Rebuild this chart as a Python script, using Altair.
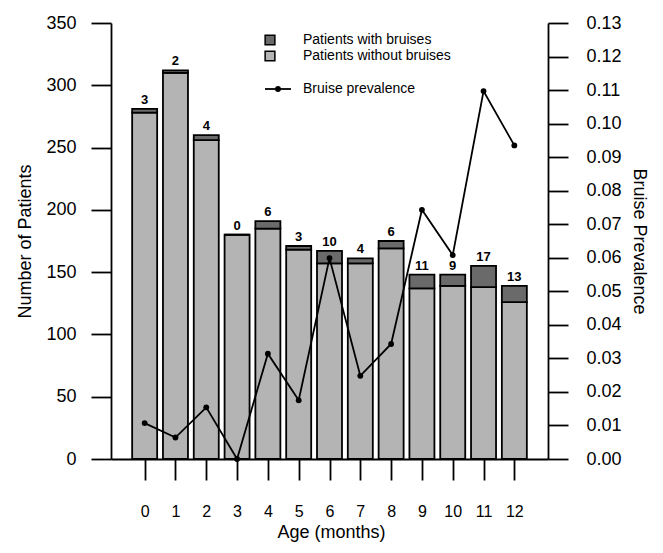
import altair as alt
import pandas as pd

# ---- data ----
ages = list(range(13))
totals = [281, 312, 260, 180, 191, 171, 167, 161, 175, 148, 148, 155, 139]
bruised = [3, 2, 4, 0, 6, 3, 10, 4, 6, 11, 9, 17, 13]
prevalence = [0.0107, 0.0064, 0.0154, 0.0, 0.0314, 0.0175, 0.0599, 0.0248,
              0.0343, 0.0743, 0.0608, 0.1097, 0.0935]
left_ticks = list(range(0, 351, 50))
right_ticks = [round(i * 0.01, 2) for i in range(14)]

LIGHT = "#b4b4b4"
DARK = "#6a6a6a"
FONT = "Liberation Sans"

df = pd.DataFrame({"age": ages, "total": totals, "bruised": bruised,
                   "prev": prevalence})
df["without"] = df["total"] - df["bruised"]

W, H = 437, 436

xscale = alt.Scale(domain=[-0.93, 12.93], nice=False, zero=False)
xaxis = alt.Axis(values=ages, tickSize=21, tickWidth=1.8, domainWidth=1.8,
                 labelFontSize=16, labelPadding=31, labelBaseline="middle",
                 labelOverlap=False,
                 title="Age (months)", titleFontSize=18, titleX=220, titleY=73,
                 titleBaseline="middle", grid=False, labelFlush=False)
yl_scale = alt.Scale(domain=[0, 350], nice=False)
yl_axis = alt.Axis(values=left_ticks, tickSize=20, tickWidth=1.8, domainWidth=1.8,
                   labelFontSize=18, labelPadding=15, grid=False,
                   labelOverlap=False, labelFlush=False,
                   title="Number of Patients", titleFontSize=18, titleAngle=-90,
                   titleX=-86, titleY=H / 2, titleAlign="center",
                   titleBaseline="middle")
yr_scale = alt.Scale(domain=[0, 0.13], nice=False)
yr_axis = alt.Axis(values=right_ticks, format=".2f", orient="right", tickSize=20,
                   tickWidth=1.8, domainWidth=1.8, labelFontSize=18,
                   labelPadding=18, grid=False, labelOverlap=False,
                   labelFlush=False, title="Bruise Prevalence",
                   titleFontSize=18, titleAngle=90, titleX=90, titleY=H / 2,
                   titleAlign="center", titleBaseline="middle")

X = alt.X("age:Q", scale=xscale, axis=xaxis)


def YL(field):
    return alt.Y(field, type="quantitative", scale=yl_scale, axis=yl_axis)


YR = alt.Y("prev:Q", scale=yr_scale, axis=yr_axis)

base = alt.Chart(df)

bars_without = base.mark_bar(width=25, color=LIGHT, stroke="black",
                             strokeWidth=1.8).encode(x=X, y=YL("without"))
bars_with = base.mark_bar(width=25, color=DARK, stroke="black",
                          strokeWidth=1.8).encode(x=X, y=YL("without"),
                                                  y2="total:Q")
labels = base.mark_text(font=FONT, fontSize=13, fontWeight="bold", dy=-5,
                        baseline="alphabetic", color="black").encode(
    x=X, y=YL("total"), text="bruised:Q")
left = alt.layer(bars_without, bars_with, labels)

line = base.mark_line(color="black", strokeWidth=1.8).encode(x=X, y=YR)
pts = base.mark_circle(size=34, color="black", opacity=1).encode(x=X, y=YR)
right = alt.layer(line, pts)

one = pd.DataFrame({"k": [0]})
lg = []
lg.append(alt.Chart(one).mark_square(size=95, color=DARK, stroke="black",
                                     strokeWidth=1.5, opacity=1).encode(
    x=alt.value(159), y=alt.value(17)))
lg.append(alt.Chart(one).mark_square(size=95, color=LIGHT, stroke="black",
                                     strokeWidth=1.5, opacity=1).encode(
    x=alt.value(159), y=alt.value(33)))
lg.append(alt.Chart(one).mark_rule(color="black", strokeWidth=1.8).encode(
    x=alt.value(154), x2=alt.value(180), y=alt.value(66)))
lg.append(alt.Chart(one).mark_circle(size=34, color="black", opacity=1).encode(
    x=alt.value(167), y=alt.value(66)))
for txt, yy in [("Patients with bruises", 17), ("Patients without bruises", 33),
                ("Bruise prevalence", 66)]:
    lg.append(alt.Chart(one).mark_text(font=FONT, fontSize=14, align="left",
                                       baseline="middle", color="black").encode(
        x=alt.value(192), y=alt.value(yy), text=alt.value(txt)))
legend = alt.layer(*lg)

chart = alt.layer(left, right, legend).resolve_scale(y="independent").properties(
    width=W, height=H,
    autosize=alt.AutoSizeParams(type="none"),
    padding={"left": 103, "top": 15, "right": 105, "bottom": 84},
).configure_view(stroke=None).configure_axis(
    labelColor="black", titleColor="black", tickColor="black",
    domainColor="black", labelFont=FONT, titleFont=FONT,
    titleFontWeight="normal",
)

chart.save("out.html", embed_options={"renderer": "svg", "actions": False})
